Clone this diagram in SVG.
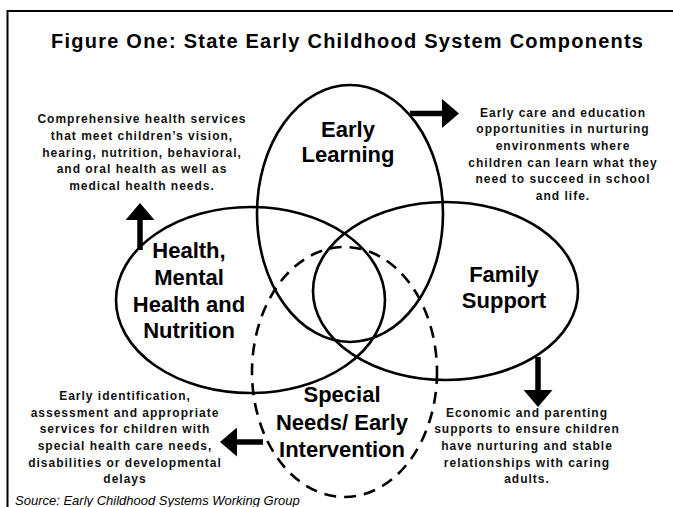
<svg xmlns="http://www.w3.org/2000/svg" width="673" height="507" viewBox="0 0 673 507">
<style>
.frame{fill:none;stroke:#000;stroke-width:2}
.ell{fill:none;stroke:#000;stroke-width:2.6}
.dash{stroke-dasharray:12 8}
.lbl{font-family:"Liberation Sans",Arial,sans-serif;font-size:22px;font-weight:bold;text-anchor:middle;fill:#000}
.desc{font-family:"Liberation Sans",Arial,sans-serif;font-size:12px;font-weight:bold;letter-spacing:1px;text-anchor:middle;fill:#111}
.title{font-family:"Liberation Sans",Arial,sans-serif;font-size:20px;font-weight:bold;text-anchor:middle;fill:#000}
.src{font-family:"Liberation Sans",Arial,sans-serif;font-size:13px;font-style:italic;fill:#000}
.arr{stroke:#000;stroke-width:5.5;fill:none}
</style>
<defs>
<marker id="ah" viewBox="0 0 17 29" refX="0" refY="14.5" markerWidth="17" markerHeight="29" markerUnits="userSpaceOnUse" orient="auto">
<path d="M0,0 L17,14.5 L0,29 Z" fill="#000"/>
</marker>
</defs>
<rect width="673" height="507" fill="#fff"/>
<path class="frame" d="M7.5,507 L7.5,11 L673,11"/>
<text class="title" x="347" y="48" textLength="592" lengthAdjust="spacing">Figure One: State Early Childhood System Components</text>

<g id="early-learning">
<ellipse class="ell" cx="350" cy="213.5" rx="93" ry="128.5"/>
<text class="lbl" x="348" y="137">Early</text>
<text class="lbl" x="348" y="162">Learning</text>
</g>
<g id="health">
<ellipse class="ell" cx="250.5" cy="300" rx="134.5" ry="93"/>
<text class="lbl" x="189" y="258">Health,</text>
<text class="lbl" x="189" y="285">Mental</text>
<text class="lbl" x="189" y="312">Health and</text>
<text class="lbl" x="189" y="338">Nutrition</text>
</g>
<g id="family-support">
<ellipse class="ell" cx="445.5" cy="291" rx="132.5" ry="89"/>
<text class="lbl" x="504" y="282">Family</text>
<text class="lbl" x="504" y="308">Support</text>
</g>
<g id="special-needs">
<ellipse class="ell dash" cx="344.5" cy="372" rx="92.5" ry="125"/>
<text class="lbl" x="342" y="402">Special</text>
<text class="lbl" x="342" y="430">Needs/ Early</text>
<text class="lbl" x="342" y="457">Intervention</text>
</g>

<g id="connectors">
<line class="arr" x1="140" y1="250" x2="140" y2="220" marker-end="url(#ah)"/>
<line class="arr" x1="410" y1="113.5" x2="442" y2="113.5" marker-end="url(#ah)"/>
<line class="arr" x1="538" y1="357" x2="538" y2="390" marker-end="url(#ah)"/>
<line class="arr" x1="263" y1="442" x2="237" y2="442" marker-end="url(#ah)"/>
</g>

<g id="desc-health">
<text class="desc" x="142" y="123">Comprehensive health services</text>
<text class="desc" x="142" y="140">that meet children’s vision,</text>
<text class="desc" x="142" y="157">hearing, nutrition, behavioral,</text>
<text class="desc" x="142" y="173">and oral health as well as</text>
<text class="desc" x="142" y="190">medical health needs.</text>
</g>
<g id="desc-early">
<text class="desc" x="563" y="117">Early care and education</text>
<text class="desc" x="563" y="133">opportunities in nurturing</text>
<text class="desc" x="563" y="150">environments where</text>
<text class="desc" x="563" y="167">children can learn what they</text>
<text class="desc" x="563" y="183">need to succeed in school</text>
<text class="desc" x="563" y="200">and life.</text>
</g>
<g id="desc-special">
<text class="desc" x="125" y="400">Early identification,</text>
<text class="desc" x="125" y="417">assessment and appropriate</text>
<text class="desc" x="125" y="433">services for children with</text>
<text class="desc" x="125" y="450">special health care needs,</text>
<text class="desc" x="125" y="467">disabilities or developmental</text>
<text class="desc" x="125" y="483">delays</text>
</g>
<g id="desc-family">
<text class="desc" x="527" y="417">Economic and parenting</text>
<text class="desc" x="527" y="433">supports to ensure children</text>
<text class="desc" x="527" y="450">have nurturing and stable</text>
<text class="desc" x="527" y="467">relationships with caring</text>
<text class="desc" x="527" y="483">adults.</text>
</g>
<text class="src" x="15" y="505">Source: Early Childhood Systems Working Group</text>
</svg>
